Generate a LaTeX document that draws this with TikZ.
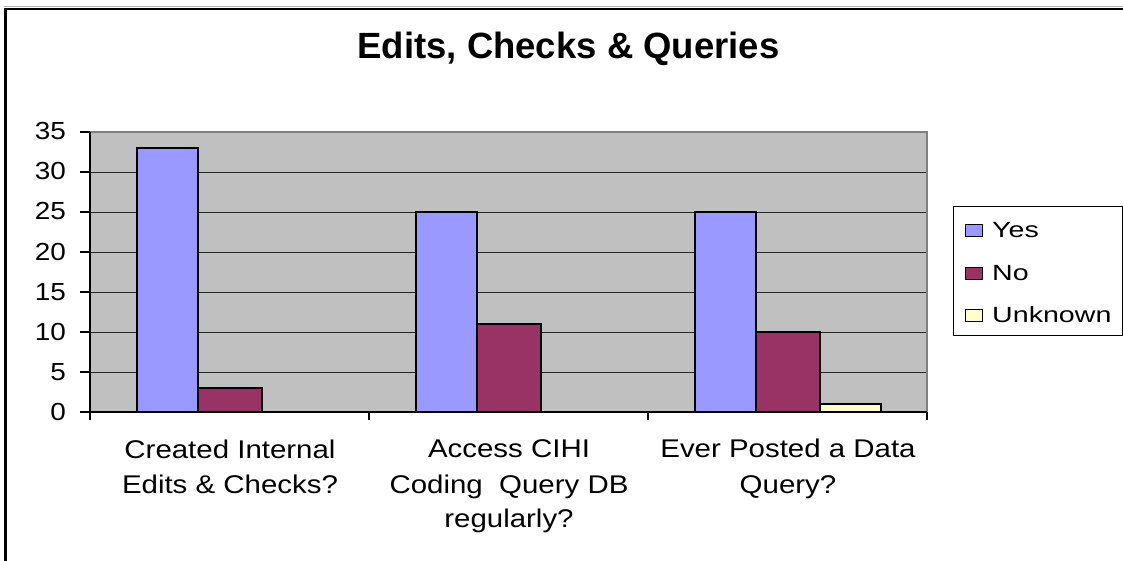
\documentclass[tikz,border=0pt]{standalone}
\usepackage{fontspec}
\setmainfont{Liberation Sans}
\newfontfamily\axisfont[FakeStretch=1.13]{Liberation Sans}
\newfontfamily\catfont[FakeStretch=1.15]{Liberation Sans}
\newfontfamily\legfont[FakeStretch=1.3]{Liberation Sans}
\definecolor{yescol}{HTML}{9999FF}
\definecolor{nocol}{HTML}{993366}
\definecolor{unkcol}{HTML}{FFFFCC}
\definecolor{plotbg}{HTML}{C0C0C0}
\definecolor{plotedge}{HTML}{808080}
\begin{document}
\begin{tikzpicture}[x=1pt,y=-1pt,
  barbox/.style={draw=black,line width=1.8pt},
  ylab/.style={anchor=base east,inner sep=0pt,font=\axisfont\fontsize{24.7}{28}\selectfont},
  catlab/.style={anchor=base,inner sep=0pt,font=\catfont\fontsize{25.6}{30}\selectfont},
  leglab/.style={anchor=base west,inner sep=0pt,font=\legfont\fontsize{22}{26}\selectfont},
  legsq/.style={draw=black,line width=1.4pt,minimum width=17pt,minimum height=12pt,inner sep=0pt,anchor=south west},
  gridln/.style={black!85,line width=0.9pt},
  tickln/.style={black,line width=1.1pt}]
\useasboundingbox (0,0) rectangle (1123,561);
\fill[white] (0,0) rectangle (1123,561);
% outer chart border
\draw[gray!60,line width=1pt] (1123,7) -- (4,7);
\draw[black,line width=2.2pt] (5.5,561) -- (5.5,9) -- (1123,9);
% title
\node[anchor=base,inner sep=0pt,font=\fontsize{36.5}{40}\selectfont\bfseries] (title) at (568.5,59) {Edits, Checks \& Queries};
% plot area
\fill[plotbg] (90,132) rectangle (927,412);
\foreach \v in {5,10,...,30}{
  \draw[gridln] (90,{412-8*\v}) -- (927,{412-8*\v});
}
\draw[plotedge,line width=2pt] (90,132) -- (927,132) -- (927,412);
% bars
\draw[barbox,fill=yescol] (137,148) rectangle (198,412);
\draw[barbox,fill=nocol] (198,388) rectangle (262,412);
\draw[barbox,fill=yescol] (416,212) rectangle (477,412);
\draw[barbox,fill=nocol] (477,324) rectangle (541,412);
\draw[barbox,fill=yescol] (695,212) rectangle (756,412);
\draw[barbox,fill=nocol] (756,332) rectangle (820,412);
\draw[barbox,fill=unkcol] (820,404) rectangle (881,412);
% axes
\draw[tickln] (90,132) -- (90,412) -- (927,412);
\foreach \v in {0,5,...,35}{
  \draw[tickln] (80,{412-8*\v}) -- (90,{412-8*\v});
  \node[ylab] (y\v) at (66,{420-8*\v}) {\v};
}
\foreach \xx in {90,369,648,927}{
  \draw[tickln] (\xx,412) -- (\xx,420);
}
% category labels
\node[catlab] (c1a) at (230,458) {Created Internal};
\node[catlab] (c1b) at (230,493) {Edits \& Checks?};
\node[catlab] (c2a) at (509,457) {Access CIHI};
\node[catlab] (c2b) at (509,493) {Coding\ \ Query DB};
\node[catlab] (c2c) at (509,527) {regularly?};
\node[catlab] (c3a) at (788,457) {Ever Posted a Data};
\node[catlab] (c3b) at (788,493) {Query?};
% legend
\draw[black,line width=1pt,fill=white] (953,207) rectangle (1122,335);
\node[legsq,fill=yescol] (sqyes) at (964.5,237) {};
\node[legsq,fill=nocol] (sqno) at (964.5,280) {};
\node[legsq,fill=unkcol] (squnk) at (964.5,322) {};
\node[leglab] (lyes) at (992,237) {Yes};
\node[leglab] (lno) at (992,280) {No};
\node[leglab] (lunk) at (992,322) {Unknown};
\end{tikzpicture}
\end{document}
